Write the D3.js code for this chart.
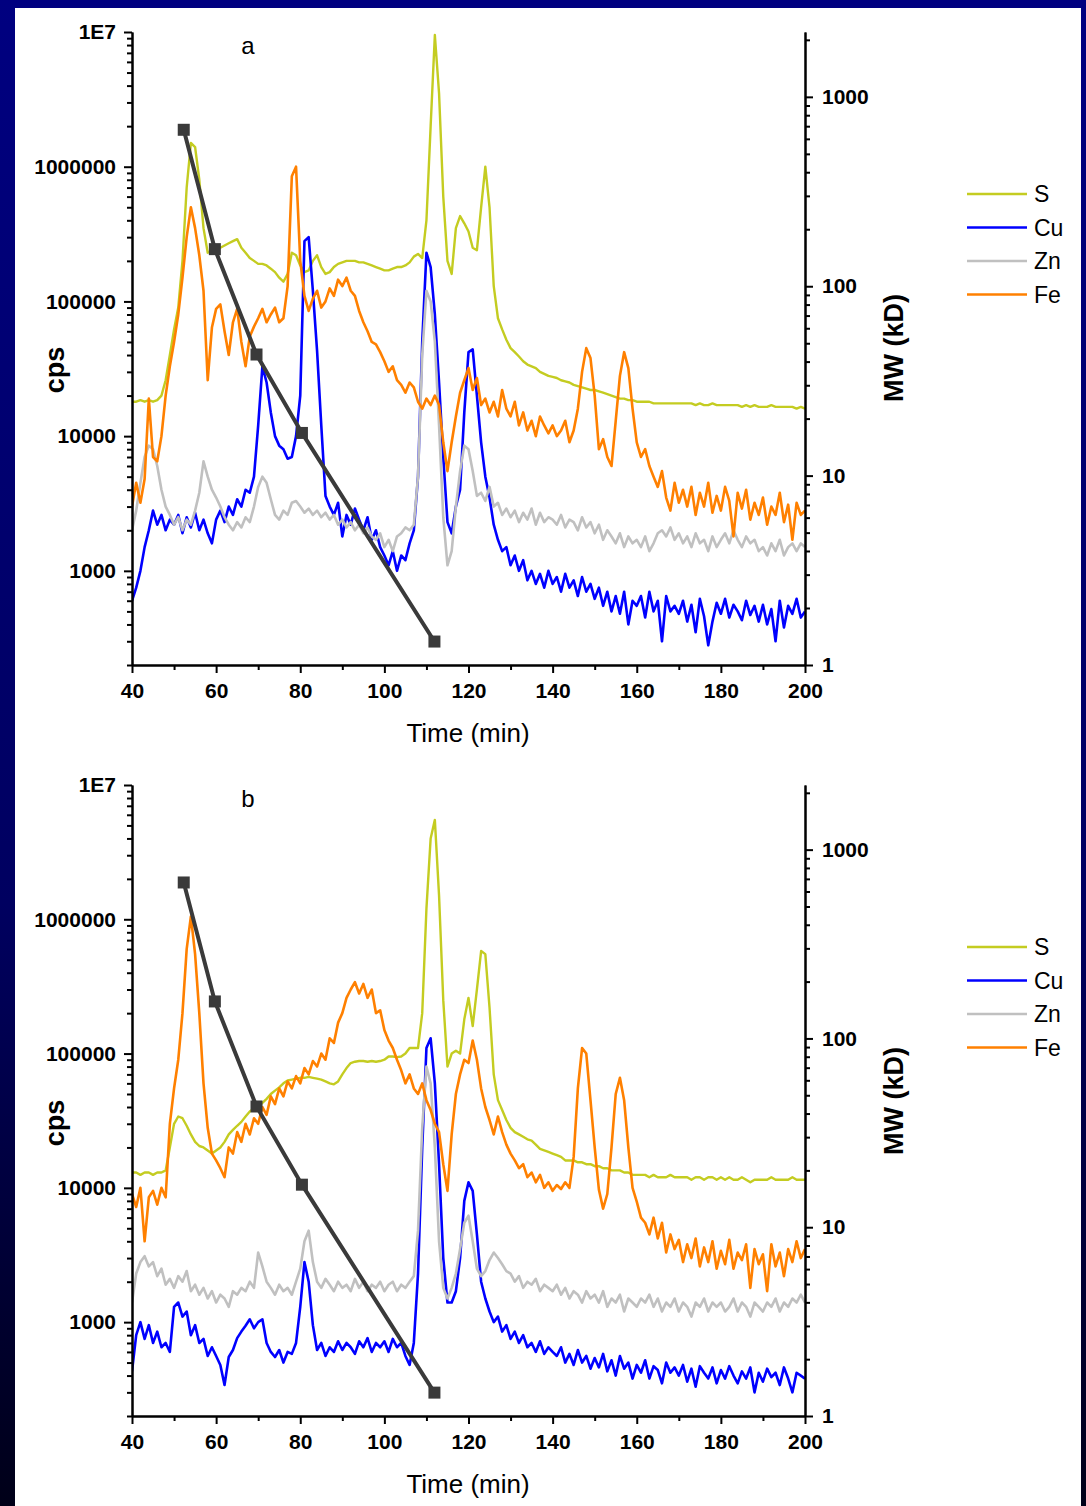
<!DOCTYPE html>
<html>
<head>
<meta charset="utf-8">
<title>SEC-ICP-MS chromatograms</title>
<style>
  body { margin: 0; background: #000080; }
  svg { display: block; }
  text { font-family: "Liberation Sans", Arial, sans-serif; fill: #000; }
</style>
</head>
<body>
<svg width="1086" height="1506"></svg>
<script src="https://d3js.org/d3.v7.min.js"></script>
<script>
// retention time grid (min), one reading per minute
const time = d3.range(40, 201);

// panel a, cps
const sA = [
  18000,18000,18500,18000,18500,18000,18500,20000,26000,40000,
  62000,90000,200000,700000,1500000,1400000,800000,350000,230000,240000,
  240000,250000,260000,270000,280000,290000,250000,230000,210000,200000,
  190000,190000,185000,175000,165000,150000,140000,160000,230000,220000,
  185000,165000,170000,200000,220000,180000,160000,165000,180000,190000,
  195000,200000,200000,200000,195000,195000,190000,185000,180000,175000,
  170000,170000,175000,180000,180000,185000,195000,215000,225000,210000,
  400000,2000000,9500000,3500000,600000,200000,160000,350000,430000,380000,
  330000,250000,240000,500000,1000000,500000,130000,75000,62000,52000,
  45000,42000,39000,36000,34000,33000,32000,30000,29000,28000,
  27500,27000,26000,25500,25000,24000,23500,23000,22500,22000,
  22000,21500,21000,20500,20000,19500,19000,19000,18500,18500,
  18000,18000,18000,18000,17500,17500,17500,17500,17500,17500,
  17500,17500,17500,17500,17000,17500,17000,17000,17500,17000,
  17000,17000,17000,17000,17000,16500,17000,16500,17000,16500,
  16500,16500,17000,16500,16500,16500,16500,16500,16000,16500,
  16000
];
const cuA = [
  600,750,1000,1500,2000,2800,2200,2600,2000,2400,
  2200,2600,1900,2500,2100,2700,2000,2400,1900,1600,
  2400,2800,2300,3000,2600,3400,3000,4000,3800,5000,
  12000,33000,25000,15000,10000,8500,8000,6800,7000,10000,
  20000,280000,300000,120000,43000,12000,3600,3000,2600,3200,
  1800,2600,2200,2900,2400,2000,2500,1700,2000,1500,
  1300,1100,1400,1000,1300,1200,1600,2000,5000,50000,
  230000,180000,80000,25000,7000,2300,1900,3000,4000,15000,
  42000,44000,20000,9000,5000,3500,2200,1700,1400,1500,
  1100,1300,1000,1200,850,1000,800,950,750,1000,
  800,900,700,950,750,850,650,900,700,800,
  620,750,550,700,500,650,480,700,400,600,
  550,650,450,700,500,600,300,650,500,550,
  480,600,420,560,350,620,460,280,420,580,
  480,620,450,560,500,430,600,470,550,420,
  560,400,520,300,600,380,550,480,620,450,
  500
];
const znA = [
  2000,2800,4500,7000,8500,8000,6000,4000,3000,2600,
  2200,2500,2000,2400,2200,2800,3800,6500,5000,4000,
  3500,3000,2500,2200,2000,2300,2100,2500,2300,3000,
  4200,5000,4500,3400,2600,2400,2800,2600,3200,3300,
  3000,2700,2900,2600,2800,2500,2700,2400,2600,2200,
  2400,2100,2300,2000,2200,1900,2100,1800,1700,1900,
  1500,1700,1400,1800,1900,2100,2000,2200,5000,40000,
  120000,100000,50000,12000,2500,1100,1400,3000,5500,8500,
  8000,5500,3600,3800,3300,4200,3000,3200,2600,2900,
  2500,2800,2300,2700,2400,2900,2200,2700,2300,2500,
  2400,2200,2600,2100,2400,2300,2000,2500,2100,2300,
  1900,2200,1700,2000,1800,1600,1900,1500,1800,1600,
  1700,1500,1800,1400,1600,1900,2000,1800,2100,1700,
  1900,1600,1800,1500,1900,1600,1700,1400,1800,1500,
  1700,1900,1600,2000,1700,1500,1800,1600,1700,1400,
  1500,1300,1600,1400,1700,1300,1500,1600,1400,1600,
  1500
];
const feA = [
  3000,4500,3200,4800,19000,7000,6500,10000,20000,33000,
  50000,80000,150000,300000,500000,350000,220000,120000,26000,64000,
  88000,95000,60000,40000,70000,88000,50000,33000,55000,65000,
  75000,88000,70000,80000,90000,70000,75000,130000,850000,1000000,
  200000,110000,85000,105000,120000,90000,100000,125000,110000,145000,
  130000,150000,120000,110000,85000,70000,60000,50000,48000,42000,
  36000,30000,33000,26000,24000,21000,25000,23000,18000,16000,
  19000,17000,20000,17000,9000,5500,9000,14000,21000,26000,
  32000,22000,27000,17000,19000,15000,18000,14000,22000,16000,
  14000,18000,12000,15000,11000,13000,10000,14000,12000,10500,
  12000,10000,11000,13000,9000,11000,16000,30000,45000,38000,
  20000,8000,9500,7000,6000,13000,28000,42000,32000,16000,
  9000,7000,8000,6000,5000,4200,5500,3500,2800,4500,
  3200,4000,3000,4200,2600,3800,3000,4500,2700,3600,
  2800,4200,3300,1800,3800,2900,4000,2400,3200,2600,
  3500,2200,3000,2600,3800,2300,3100,1700,3200,2600,
  2800
];

// panel b, cps
const sB = [
  13000,13000,12500,13000,13000,12500,13000,13000,13500,20000,
  30000,34000,33000,29000,25000,22000,20500,20000,19000,18000,
  19000,20000,22000,25000,27000,29000,31000,34000,37000,39000,
  40000,43000,46000,50000,53000,56000,60000,63000,64000,65000,
  66000,66000,67000,66000,65000,64000,62000,60000,59000,62000,
  70000,78000,85000,87000,88000,88000,87000,88000,87000,88000,
  90000,95000,95000,94000,95000,100000,110000,110000,110000,200000,
  1200000,4000000,5500000,1500000,250000,80000,100000,105000,100000,180000,
  260000,160000,300000,580000,550000,220000,70000,45000,38000,32000,
  28000,26000,25000,24000,23000,22500,21000,19500,19000,18500,
  18000,17500,17000,16000,16000,16000,15500,15500,15000,15000,
  14500,14500,14000,14000,13500,13500,13500,13000,13000,12500,
  12500,12500,12500,12000,12500,12000,12000,12000,12500,12000,
  12000,12000,12000,11500,12000,12000,11500,12000,12000,11500,
  12000,11500,12000,11500,11500,12000,11500,11000,11500,11500,
  11500,11500,12000,11500,11500,11500,11500,12000,11500,11500,
  11500
];
const cuB = [
  430,800,1000,750,950,700,850,650,700,600,
  1300,1400,1100,1200,800,950,700,750,560,650,
  560,480,340,550,620,760,850,940,1050,900,
  1000,1050,700,600,550,620,500,600,580,700,
  1300,2800,2000,950,620,700,560,650,600,720,
  620,700,650,580,720,650,760,600,700,650,
  720,600,750,650,700,560,480,700,2300,20000,
  110000,130000,60000,15000,3000,1400,1400,1700,3000,8000,
  11000,9500,4500,2000,1500,1200,1000,1100,850,950,
  750,850,700,800,650,700,600,720,580,650,
  600,560,650,500,580,480,620,500,560,450,
  540,460,580,430,520,400,560,450,500,380,
  480,420,520,380,470,440,350,500,420,460,
  400,480,360,450,330,470,420,380,460,350,
  440,380,470,400,350,430,380,460,300,420,
  360,450,390,420,340,460,380,300,420,400,
  380
];
const znB = [
  1400,2300,2800,3100,2600,2800,2200,2500,1900,2100,
  1800,2200,2000,2400,1700,1900,1600,1800,1500,1700,
  1400,1600,1500,1300,1700,1600,1800,1700,2000,1800,
  3300,2600,2000,1800,1600,1900,1700,1800,1600,2000,
  2500,4000,4800,2800,2000,1800,2100,1900,1700,2000,
  1800,1900,1700,2100,1800,2000,1700,1900,1800,2000,
  1700,1900,2000,1700,1900,1800,2000,2200,4800,28000,
  80000,60000,20000,4000,1800,1500,1800,2300,3500,5500,
  6200,4000,2500,2200,2400,2900,3300,3000,2700,2400,
  2300,2000,2200,1800,2000,1900,2100,1700,1900,1800,
  1700,1900,1600,1800,1500,1700,1600,1400,1700,1500,
  1600,1400,1700,1300,1500,1400,1600,1200,1500,1400,
  1300,1500,1400,1600,1300,1500,1200,1400,1300,1500,
  1200,1400,1300,1100,1400,1300,1500,1200,1400,1300,
  1400,1200,1300,1500,1200,1400,1300,1100,1400,1300,
  1200,1400,1300,1500,1200,1400,1300,1500,1400,1600,
  1400
];
const feB = [
  9000,7200,10000,4000,8500,9500,7500,10000,8500,30000,
  55000,90000,200000,600000,1050000,550000,200000,60000,28000,18000,
  16000,14000,12000,20000,18000,26000,22000,30000,25000,33000,
  30000,40000,35000,48000,42000,55000,48000,62000,55000,68000,
  60000,78000,70000,88000,80000,100000,90000,130000,120000,170000,
  200000,260000,300000,340000,280000,330000,260000,300000,200000,210000,
  150000,125000,110000,90000,75000,60000,70000,55000,50000,60000,
  45000,38000,30000,26000,15000,9500,25000,50000,70000,90000,
  85000,125000,90000,55000,40000,32000,25000,34000,26000,21000,
  18000,16000,14000,15000,12000,13000,11000,12500,10000,11000,
  9500,10500,9800,11000,10000,17000,55000,110000,100000,45000,
  20000,9700,7000,9000,20000,50000,66000,45000,20000,10000,
  7900,6000,5500,4500,6000,4200,5500,3300,4500,3500,
  4100,2800,3800,3000,4200,2600,3600,2800,4000,2500,
  3400,2700,4100,2500,3300,2900,3800,1800,3500,2700,
  3200,1700,3800,2600,3300,2200,3500,2800,4000,3000,
  3500
];

// molecular weight calibration (right axis, kD)
const mwTime = [52.3, 59.7, 69.6, 80.4, 111.9];
const mwValue = [670, 157, 43.6, 16.8, 1.33];

const elements = ["S", "Cu", "Zn", "Fe"];
const colors = ["#c4cc21", "#0000ff", "#c0c0c0", "#ff8000"];
const timeTicks = [40, 60, 80, 100, 120, 140, 160, 180, 200];
const timeMinor = [50, 70, 90, 110, 130, 150, 170, 190];
const cpsTicks = [1e3, 1e4, 1e5, 1e6, 1e7];
const cpsLabels = ["1000", "10000", "100000", "1000000", "1E7"];
const mwTicks = [1, 10, 100, 1000];

const svg = d3.select("svg");

// backdrop: dark blue frame with white page
const defs = svg.append("defs");
const grad = defs.append("linearGradient").attr("id", "bg")
  .attr("x1", 0).attr("y1", 0).attr("x2", 0).attr("y2", 1);
grad.append("stop").attr("offset", "0%").attr("stop-color", "#000080");
grad.append("stop").attr("offset", "60%").attr("stop-color", "#000060");
grad.append("stop").attr("offset", "100%").attr("stop-color", "#000018");
svg.append("rect").attr("width", 1086).attr("height", 1506).attr("fill", "url(#bg)");
svg.append("rect").attr("x", 15).attr("y", 8).attr("width", 1066).attr("height", 1498).attr("fill", "#fff");

defs.append("clipPath").attr("id", "legclip")
  .append("rect").attr("x", 0).attr("y", 0).attr("width", 1066).attr("height", 1506);

function minorLog(lo, hi) {
  const out = [];
  for (let d = 1; d <= hi; d *= 10)
    for (let k = 2; k <= 9; k++)
      if (k * d >= lo && k * d <= hi) out.push(k * d);
  return out;
}

function panel(id, top, bottom, letter, series) {
  const x = d3.scaleLinear().domain([40, 200]).range([132, 805]);
  const y = d3.scaleLog().domain([200, 1e7]).range([bottom, top]);
  const y2 = d3.scaleLog().domain([1, 2200]).range([bottom, top]);

  const g = svg.append("g");

  g.append("clipPath").attr("id", "clip" + id)
    .append("rect").attr("x", 132).attr("y", top).attr("width", 673).attr("height", bottom - top);

  const plot = g.append("g").attr("clip-path", "url(#clip" + id + ")");
  const line = d3.line().x((d, i) => x(time[i])).y(d => y(d));
  series.forEach((s, k) => {
    plot.append("path").datum(s)
      .attr("fill", "none")
      .attr("stroke", colors[k])
      .attr("stroke-width", k === 0 ? 2.4 : 2.6)
      .attr("stroke-linejoin", "round")
      .attr("d", line);
  });

  // MW calibration
  const mw = mwTime.map((t, i) => [t, mwValue[i]]);
  plot.append("path").datum(mw)
    .attr("fill", "none").attr("stroke", "#3a3a3a").attr("stroke-width", 4)
    .attr("d", d3.line().x(d => x(d[0])).y(d => y2(d[1])));
  plot.selectAll("rect.pt").data(mw).join("rect")
    .attr("class", "pt")
    .attr("x", d => x(d[0]) - 6).attr("y", d => y2(d[1]) - 6)
    .attr("width", 12).attr("height", 12)
    .attr("fill", "#3a3a3a");

  // axes
  const styleAxis = sel => {
    sel.select(".domain").attr("stroke", "#000").attr("stroke-width", 2);
    sel.selectAll(".tick line").attr("stroke", "#000").attr("stroke-width", 2);
    sel.selectAll(".tick text").attr("font-size", 21).attr("font-weight", "bold")
      .attr("font-family", "Liberation Sans, Arial, sans-serif").attr("fill", "#000");
  };

  g.append("g").attr("transform", "translate(132,0)")
    .call(d3.axisLeft(y).tickValues(minorLog(200, 1e7).filter(v => v < 1e7)).tickSize(5).tickFormat("").tickSizeOuter(0))
    .call(styleAxis);
  g.append("g").attr("transform", "translate(132,0)")
    .call(d3.axisLeft(y).tickValues(cpsTicks).tickSize(8).tickPadding(8).tickSizeOuter(0)
      .tickFormat((d, i) => cpsLabels[i]))
    .call(styleAxis);

  g.append("g").attr("transform", "translate(805,0)")
    .call(d3.axisRight(y2).tickValues(minorLog(1, 2200)).tickSize(5).tickFormat("").tickSizeOuter(0))
    .call(styleAxis);
  g.append("g").attr("transform", "translate(805,0)")
    .call(d3.axisRight(y2).tickValues(mwTicks).tickSize(8).tickPadding(9).tickSizeOuter(0)
      .tickFormat(d3.format("d")))
    .call(styleAxis);

  g.append("g").attr("transform", `translate(0,${bottom})`)
    .call(d3.axisBottom(x).tickValues(timeMinor).tickSize(5).tickFormat("").tickSizeOuter(0))
    .call(styleAxis);
  g.append("g").attr("transform", `translate(0,${bottom})`)
    .call(d3.axisBottom(x).tickValues(timeTicks).tickSize(8).tickPadding(10).tickSizeOuter(0))
    .call(styleAxis);

  // titles
  g.append("text").attr("x", 468).attr("y", bottom + 77)
    .attr("text-anchor", "middle").attr("font-size", 26).text("Time (min)");
  g.append("text").attr("transform", `translate(64,${top + 338}) rotate(-90)`)
    .attr("text-anchor", "middle").attr("font-size", 27).attr("font-weight", "bold").text("cps");
  g.append("text").attr("transform", `translate(903,${top + 316}) rotate(-90)`)
    .attr("text-anchor", "middle").attr("font-size", 27).attr("font-weight", "bold").text("MW (kD)");
  g.append("text").attr("x", 248).attr("y", top + 22)
    .attr("text-anchor", "middle").attr("font-size", 24).text(letter);

  // legend
  const leg = g.append("g").attr("clip-path", "url(#legclip)");
  elements.forEach((name, k) => {
    const ly = top + 162 + k * 33.5;
    leg.append("line").attr("x1", 967).attr("x2", 1027).attr("y1", ly).attr("y2", ly)
      .attr("stroke", colors[k]).attr("stroke-width", 2.5);
    leg.append("text").attr("x", 1034).attr("y", ly).attr("dy", "0.36em")
      .attr("font-size", 23).text(name);
  });
}

panel("a", 32, 665, "a", [sA, cuA, znA, feA]);
panel("b", 785, 1416, "b", [sB, cuB, znB, feB]);
</script>
</body>
</html>
